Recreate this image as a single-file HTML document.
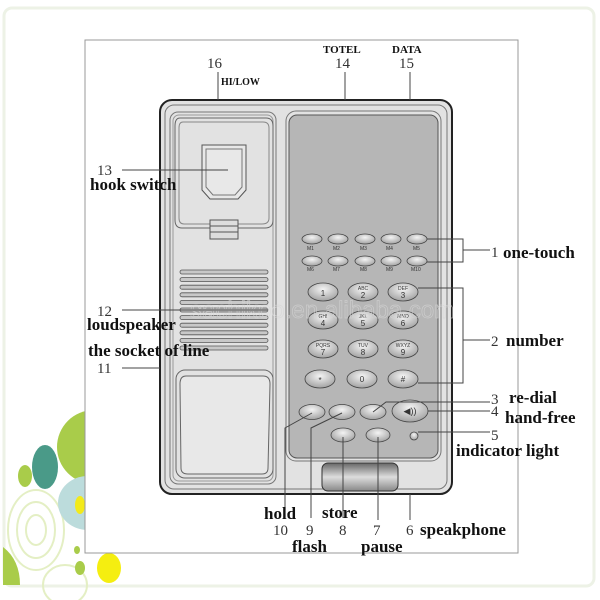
<!DOCTYPE html>
<html><head><meta charset="utf-8"><style>
html,body{margin:0;padding:0;background:#fff;}
svg{display:block}
.b{font-family:"Liberation Serif",serif;font-weight:bold;fill:#111}
.n{font-family:"Liberation Serif",serif;fill:#333}
.s{font-family:"Liberation Sans",sans-serif;font-size:5px;fill:#333}
</style></head><body>
<svg width="600" height="600" viewBox="0 0 600 600" xmlns="http://www.w3.org/2000/svg">
<defs>
<radialGradient id="bt" cx="50%" cy="35%" r="60%"><stop offset="0" stop-color="#f4f4f4"/><stop offset="1" stop-color="#a8a8a8"/></radialGradient>
<linearGradient id="tab" x1="0" y1="0" x2="0" y2="1"><stop offset="0" stop-color="#666"/><stop offset="0.5" stop-color="#ddd"/><stop offset="1" stop-color="#888"/></linearGradient>
</defs>
<rect x="0" y="0" width="600" height="600" fill="#fff"/>
<rect x="4" y="8" width="590" height="578" rx="8" fill="none" stroke="#edf2e6" stroke-width="3"/>
<!-- decorative circles -->
<ellipse cx="36" cy="530" rx="28" ry="40" fill="none" stroke="#e4efc4" stroke-width="2"/>
<ellipse cx="36" cy="530" rx="19" ry="28" fill="none" stroke="#e4efc4" stroke-width="2"/>
<ellipse cx="36" cy="530" rx="10" ry="15" fill="none" stroke="#e4efc4" stroke-width="2"/>
<ellipse cx="65" cy="585" rx="22" ry="20" fill="none" stroke="#e4efc4" stroke-width="2"/>
<ellipse cx="94" cy="447" rx="37" ry="37" fill="#a9cc4a"/>
<ellipse cx="88" cy="503" rx="30" ry="27" fill="#bcdcdc"/>
<ellipse cx="80" cy="505" rx="5" ry="9" fill="#f3ea1a"/>
<ellipse cx="45" cy="467" rx="13" ry="22" fill="#4a9a88"/>
<ellipse cx="25" cy="476" rx="7" ry="11" fill="#a9cc4a"/>
<ellipse cx="109" cy="568" rx="12" ry="15" fill="#f5ee10"/>
<ellipse cx="80" cy="568" rx="5" ry="7" fill="#a9cc4a"/>
<ellipse cx="77" cy="550" rx="3" ry="4" fill="#a9cc4a"/>
<path d="M3 547 Q20 560 20 585 L3 585Z" fill="#a9cc4a"/>
<!-- panel -->
<rect x="85" y="40" width="433" height="513" fill="#fff" stroke="#999" stroke-width="1"/>
<!-- phone body -->
<rect x="160" y="100" width="292" height="394" rx="12" fill="#e2e2e2" stroke="#222" stroke-width="2"/>
<rect x="165" y="105" width="282" height="384" rx="9" fill="none" stroke="#777" stroke-width="1"/>
<rect x="170" y="112" width="106" height="372" rx="8" fill="none" stroke="#777" stroke-width="1"/>
<rect x="173" y="115" width="100" height="366" rx="6" fill="none" stroke="#999" stroke-width="1"/>
<path d="M180 118 H266 Q273 118 273 126 V220 Q273 228 265 228 H182 Q175 228 175 220 V126 Q175 118 180 118Z" fill="none" stroke="#666"/>
<path d="M183 122 H263 Q269 122 269 128 V218 Q269 224 262 224 H184 Q179 224 179 218 V128 Q179 122 183 122Z" fill="none" stroke="#888"/>
<path d="M202 145 H246 V190 L238 199 H210 L202 190Z" fill="#e8e8e8" stroke="#555"/>
<path d="M206 149 H242 V187 L235 195 H213 L206 187Z" fill="none" stroke="#777"/>
<rect x="210" y="220" width="28" height="19" fill="#ddd" stroke="#555"/>
<line x1="210" y1="226" x2="238" y2="226" stroke="#555"/><line x1="210" y1="232" x2="238" y2="232" stroke="#555"/>
<g fill="#c8c8c8" stroke="#555" stroke-width="0.8">
<rect x="180" y="270" width="88" height="4" rx="2"/><rect x="180" y="277.6" width="88" height="4" rx="2"/>
<rect x="180" y="285.2" width="88" height="4" rx="2"/><rect x="180" y="292.8" width="88" height="4" rx="2"/>
<rect x="180" y="300.4" width="88" height="4" rx="2"/><rect x="180" y="308" width="88" height="4" rx="2"/>
<rect x="180" y="315.6" width="88" height="4" rx="2"/><rect x="180" y="323.2" width="88" height="4" rx="2"/>
<rect x="180" y="330.8" width="88" height="4" rx="2"/><rect x="180" y="338.4" width="88" height="4" rx="2"/>
<rect x="180" y="346" width="88" height="4" rx="2"/>
</g>
<rect x="176" y="370" width="97" height="108" rx="9" fill="none" stroke="#666"/>
<path d="M186 376 H263 Q270 376 270 384 L268 468 Q268 474 262 474 H188 Q181 474 181 468 L180 384 Q180 376 186 376Z" fill="#e8e8e8" stroke="#666"/>
<!-- keypad panel -->
<rect x="286" y="111" width="155" height="350" rx="10" fill="none" stroke="#777"/>
<rect x="289" y="115" width="149" height="343" rx="8" fill="#b6b6b6" stroke="#555"/>
<g fill="url(#bt)" stroke="#444" stroke-width="0.8">
<ellipse cx="312" cy="239" rx="10" ry="5"/><ellipse cx="338" cy="239" rx="10" ry="5"/><ellipse cx="365" cy="239" rx="10" ry="5"/><ellipse cx="391" cy="239" rx="10" ry="5"/><ellipse cx="417" cy="239" rx="10" ry="5"/>
<ellipse cx="312" cy="261" rx="10" ry="5"/><ellipse cx="338" cy="261" rx="10" ry="5"/><ellipse cx="365" cy="261" rx="10" ry="5"/><ellipse cx="391" cy="261" rx="10" ry="5"/><ellipse cx="417" cy="261" rx="10" ry="5"/>
</g>
<g class="s"><text x="307" y="250">M1</text><text x="333" y="250">M2</text><text x="360" y="250">M3</text><text x="386" y="250">M4</text><text x="413" y="250">M5</text>
<text x="307" y="271">M6</text><text x="333" y="271">M7</text><text x="360" y="271">M8</text><text x="386" y="271">M9</text><text x="411" y="271">M10</text></g>
<g fill="url(#bt)" stroke="#444" stroke-width="0.8">
<ellipse cx="323" cy="292" rx="15" ry="9"/><ellipse cx="363" cy="292" rx="15" ry="9"/><ellipse cx="403" cy="292" rx="15" ry="9"/>
<ellipse cx="323" cy="320" rx="15" ry="9"/><ellipse cx="363" cy="320" rx="15" ry="9"/><ellipse cx="403" cy="320" rx="15" ry="9"/>
<ellipse cx="323" cy="349" rx="15" ry="9"/><ellipse cx="363" cy="349" rx="15" ry="9"/><ellipse cx="403" cy="349" rx="15" ry="9"/>
<ellipse cx="320" cy="379" rx="15" ry="9"/><ellipse cx="362" cy="379" rx="15" ry="9"/><ellipse cx="403" cy="379" rx="15" ry="9"/>
<ellipse cx="312" cy="412" rx="13" ry="7.5"/><ellipse cx="342" cy="412" rx="13" ry="7.5"/><ellipse cx="373" cy="412" rx="13" ry="7.5"/>
<ellipse cx="410" cy="411" rx="18" ry="11"/>
<ellipse cx="343" cy="435" rx="12" ry="7"/><ellipse cx="378" cy="435" rx="12" ry="7"/>
<circle cx="414" cy="436" r="4"/>
</g>
<g font-family="Liberation Sans,sans-serif" font-size="8" fill="#333" text-anchor="middle">
<text x="323" y="296">1</text><text x="363" y="290" font-size="5">ABC</text><text x="363" y="298">2</text><text x="403" y="290" font-size="5">DEF</text><text x="403" y="298">3</text>
<text x="323" y="318" font-size="5">GHI</text><text x="323" y="326">4</text><text x="363" y="318" font-size="5">JKL</text><text x="363" y="326">5</text><text x="403" y="318" font-size="5">MNO</text><text x="403" y="326">6</text>
<text x="323" y="347" font-size="5">PQRS</text><text x="323" y="355">7</text><text x="363" y="347" font-size="5">TUV</text><text x="363" y="355">8</text><text x="403" y="347" font-size="5">WXYZ</text><text x="403" y="355">9</text>
<text x="320" y="383">*</text><text x="362" y="382">0</text><text x="403" y="382">#</text>
<text x="410" y="414" font-size="9">◀))</text>
</g>
<rect x="322" y="463" width="76" height="28" rx="6" fill="url(#tab)" stroke="#333"/>
<text x="190" y="318" font-family="Liberation Sans,sans-serif" font-size="24" fill="none" stroke="#d6d6d6" stroke-width="0.7" opacity="0.7">sachikoo.en.alibaba.com</text>
<g stroke="#444" stroke-width="1" fill="none">
<line x1="218" y1="72" x2="218" y2="100"/><line x1="345" y1="72" x2="345" y2="100"/><line x1="410" y1="72" x2="410" y2="100"/>
<line x1="122" y1="170" x2="228" y2="170"/><line x1="122" y1="310" x2="268" y2="310"/><line x1="122" y1="368" x2="160" y2="368"/>
<polyline points="427,239 463,239 463,262 427,262"/><line x1="463" y1="250" x2="490" y2="250"/>
<polyline points="418,288 463,288 463,383 418,383"/><line x1="463" y1="340" x2="490" y2="340"/>
<polyline points="373,412 386,402 490,402"/><line x1="428" y1="411" x2="490" y2="411"/><line x1="418" y1="432" x2="490" y2="432"/>
<polyline points="312,413 285,428 285,518"/><polyline points="342,413 311,428 311,518"/>
<line x1="343" y1="437" x2="343" y2="518"/><line x1="378" y1="437" x2="378" y2="520"/><line x1="410" y1="494" x2="410" y2="520"/>
</g>
<g class="n" font-size="15">
<text x="207" y="68">16</text><text x="335" y="68">14</text><text x="399" y="68">15</text>
<text x="97" y="175">13</text><text x="97" y="316">12</text><text x="97" y="373">11</text>
<text x="491" y="257">1</text><text x="491" y="346">2</text><text x="491" y="404">3</text><text x="491" y="416">4</text><text x="491" y="440">5</text>
<text x="273" y="535">10</text><text x="306" y="535">9</text><text x="339" y="535">8</text><text x="373" y="535">7</text><text x="406" y="535">6</text>
</g>
<g class="b" font-size="11"><text x="323" y="53">TOTEL</text><text x="392" y="53">DATA</text><text x="221" y="85" font-size="10">HI/LOW</text></g>
<g class="b" font-size="17">
<text x="90" y="190">hook switch</text><text x="87" y="330">loudspeaker</text><text x="88" y="356">the socket of line</text>
<text x="503" y="258">one-touch</text><text x="506" y="346">number</text><text x="509" y="403">re-dial</text><text x="505" y="423">hand-free</text><text x="456" y="456">indicator light</text>
<text x="264" y="519">hold</text><text x="322" y="518">store</text><text x="420" y="535">speakphone</text><text x="292" y="552">flash</text><text x="361" y="552">pause</text>
</g>
</svg>
</body></html>
